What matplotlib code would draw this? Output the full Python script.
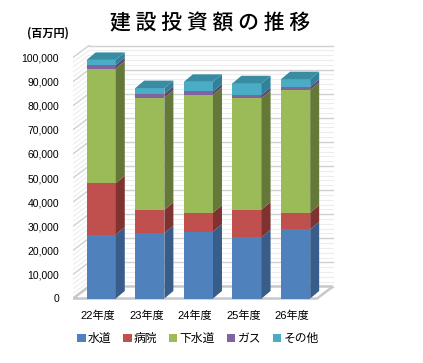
import numpy as np
import matplotlib
matplotlib.use("Agg")
import matplotlib.pyplot as plt
from matplotlib.patches import Polygon, Patch
from matplotlib.font_manager import FontProperties

# データ（百万円）
categories = ["22年度", "23年度", "24年度", "25年度", "26年度"]
series_names = ["水道", "病院", "下水道", "ガス", "その他"]
suido = [26500, 27100, 27800, 25400, 28700]
byoin = [21300, 9700, 7800, 11500, 6900]
gesuido = [47600, 46500, 48900, 46200, 50900]
gas = [1500, 1600, 1400, 1400, 1300]
sonota = [2100, 2400, 4000, 4800, 3200]
y_ticks = list(range(0, 100001, 10000))

front_cols = ["#4F81BD", "#C0504D", "#9BBB59", "#8064A2", "#4BACC6"]
side_cols = ["#385D8A", "#7F3230", "#647837", "#5C4776", "#2F8299"]
top_col = "#3A8CA3"

jp = ["Liberation Sans", "Noto Sans CJK JP"]
plt.rcParams["font.family"] = jp

W, H = 423, 363
fig = plt.figure(figsize=(W / 100, H / 100), dpi=100)

# ピクセル -> データ換算
px_x = 48.6          # px / カテゴリ
px_y = 241 / 100000  # px / 円
x0_px, y0_px = 101.2, 298.5
ax_l, ax_r, ax_t, ax_b = 73, 340, 30, 305
ax = fig.add_axes([ax_l / W, 1 - ax_b / H, (ax_r - ax_l) / W, (ax_b - ax_t) / H])
ax.set_xlim((ax_l - x0_px) / px_x, (ax_r - x0_px) / px_x)
ax.set_ylim((y0_px - ax_b) / px_y, (y0_px - ax_t) / px_y)
for s in ax.spines.values():
    s.set_visible(False)

# 壁と床
xl = (73 - x0_px) / px_x
xr = (317 - x0_px) / px_x
dxw, dyw = 16 / px_x, 12 / px_y
ax.add_patch(Polygon([(xl + dxw, dyw), (xr + dxw, dyw), (xr + dxw, 100000 + dyw), (xl + dxw, 100000 + dyw)],
                     closed=True, facecolor="white", edgecolor="none", zorder=0))
for v in range(0, 100001, 2000):
    major = v % 10000 == 0
    c = "#D0D0D0" if major else "#EDEDED"
    lw = 1.0 if major else 0.8
    ax.plot([xl + dxw, xr + dxw], [v + dyw, v + dyw], color=c, lw=lw, zorder=1)
    ax.plot([xl, xl + dxw], [v, v + dyw], color=c, lw=lw, zorder=1)
ax.add_patch(Polygon([(xl, 0), (xr, 0), (xr + dxw, dyw), (xl + dxw, dyw)],
                     closed=True, facecolor="white", edgecolor="#C8C8C8", lw=1.8, zorder=2))

# 3D風の積み上げ棒
data = [suido, byoin, gesuido, gas, sonota]
x = np.arange(len(categories))
bw = 0.6
dxb, dyb = 9 / px_x, 7.5 / px_y
bottom = np.zeros(len(categories))
for k, vals in enumerate(data):
    vals = np.array(vals, dtype=float)
    ax.bar(x, vals, bw, bottom=bottom, color=front_cols[k], zorder=5)
    for i in range(len(x)):
        r = x[i] + bw / 2
        y1, y2 = bottom[i], bottom[i] + vals[i]
        ax.add_patch(Polygon([(r, y1), (r + dxb, y1 + dyb), (r + dxb, y2 + dyb), (r, y2)],
                             closed=True, facecolor=side_cols[k], edgecolor="none", zorder=5))
        if k == len(data) - 1:
            lft = x[i] - bw / 2
            ax.add_patch(Polygon([(lft, y2), (r, y2), (r + dxb, y2 + dyb), (lft + dxb, y2 + dyb)],
                                 closed=True, facecolor=top_col, edgecolor="none", zorder=5))
    bottom += vals

ax.set_xticks([])
ax.set_yticks(y_ticks)
ax.set_yticklabels([f"{v:,}" for v in y_ticks], fontsize=7.5)
ax.tick_params(axis="y", length=0, pad=10)

lab_y = (y0_px - 315.7) / px_y
for i, c in enumerate(categories):
    ax.text(x[i] - 0.07, lab_y, c, ha="center", va="center", fontsize=8, clip_on=False)

fig.text(210.5 / W, 1 - 23 / H, "建 設 投 資 額 の 推 移", ha="center", va="center",
         fontsize=15, family="Noto Sans CJK JP", weight="medium")
fig.text(48 / W, 1 - 33 / H, "(百万円)", ha="center", va="center",
         fontsize=8, family="Noto Sans CJK JP", weight="bold")

handles = [Patch(facecolor=c, edgecolor="none") for c in front_cols]
fig.legend(handles, series_names, loc="center", bbox_to_anchor=(198 / W, 1 - 339 / H),
           ncol=5, frameon=False, prop=FontProperties(family=jp, size=8.5),
           handlelength=0.7, handleheight=0.7, handletextpad=0.2, columnspacing=1.0)

fig.savefig("out.png", dpi=100)
